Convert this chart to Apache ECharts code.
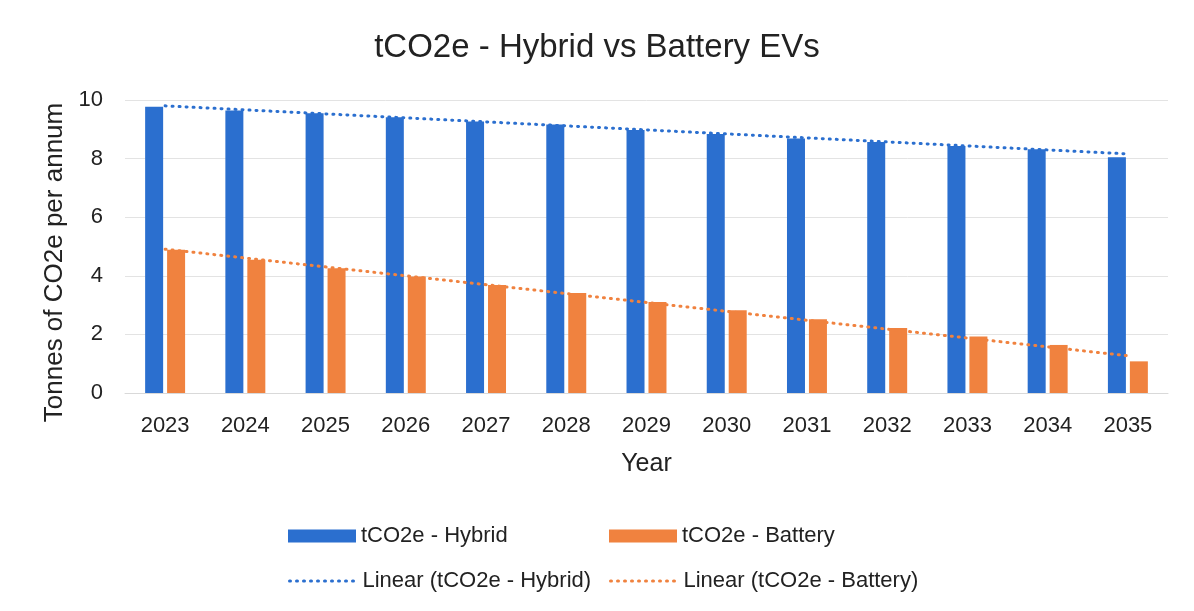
<!DOCTYPE html>
<html>
<head>
<meta charset="utf-8">
<script src="https://cdn.jsdelivr.net/npm/echarts@6/dist/echarts.min.js"></script>
<style>
  html, body { margin: 0; padding: 0; background: #fff; }
  #chart { width: 1194px; height: 611px; }
</style>
</head>
<body>
<div id="chart"></div>
<script>
const years = ['2023', '2024', '2025', '2026', '2027', '2028', '2029', '2030', '2031', '2032', '2033', '2034', '2035'];
const hybrid = [9.77, 9.64, 9.55, 9.41, 9.27, 9.16, 8.98, 8.84, 8.69, 8.57, 8.43, 8.32, 8.05];
const battery = [4.89, 4.55, 4.26, 3.98, 3.69, 3.41, 3.11, 2.82, 2.52, 2.22, 1.93, 1.64, 1.08];
// trend lines at first and last year
const hybridTrend = [9.80, null, null, null, null, null, null, null, null, null, null, null, 8.16];
const batteryTrend = [4.91, null, null, null, null, null, null, null, null, null, null, null, 1.27];

const blue = '#2b6fcf';
const orange = '#f0823f';
const font = 'Liberation Sans, Arial, sans-serif';

const chart = echarts.init(document.getElementById('chart'));

const legendText = { fontSize: 22, color: '#222', fontFamily: font };
const barLegend = { itemWidth: 68, itemHeight: 13, icon: 'rect', itemGap: 0, textStyle: legendText };
const lineLegend = {
  itemWidth: 68, itemHeight: 13, itemGap: 0, textStyle: legendText,
  itemStyle: { opacity: 0 },
  lineStyle: { width: 3, type: [1, 6], cap: 'round' }
};

chart.setOption({
  animation: false,
  title: {
    text: 'tCO2e - Hybrid vs Battery EVs',
    left: 'center',
    top: 26,
    textStyle: { fontSize: 33, fontWeight: 'normal', color: '#222', fontFamily: font }
  },
  legend: [
    Object.assign({ data: ['tCO2e - Hybrid'], left: 283, top: 520 }, barLegend),
    Object.assign({ data: ['tCO2e - Battery'], left: 604, top: 520 }, barLegend),
    Object.assign({ data: ['Linear (tCO2e - Hybrid)'], left: 283, top: 565 }, lineLegend),
    Object.assign({ data: ['Linear (tCO2e - Battery)'], left: 604, top: 565 }, lineLegend)
  ],
  grid: { left: 125, right: 26, top: 100, bottom: 218, containLabel: false },
  xAxis: {
    type: 'category',
    data: years,
    name: 'Year',
    nameLocation: 'middle',
    nameGap: 59,
    nameTextStyle: { fontSize: 25, color: '#222', fontFamily: font },
    axisLine: { show: true, lineStyle: { color: '#d9d9d9' } },
    axisTick: { show: false },
    axisLabel: { fontSize: 22, color: '#222', margin: 22, fontFamily: font }
  },
  yAxis: {
    type: 'value',
    min: 0,
    max: 10,
    interval: 2,
    name: 'Tonnes of CO2e per annum',
    nameLocation: 'middle',
    nameRotate: 90,
    nameGap: 57,
    nameTextStyle: { fontSize: 26, color: '#222', fontFamily: font, padding: [0, 32, 0, 0] },
    axisLine: { show: false },
    axisTick: { show: false },
    axisLabel: { fontSize: 22, color: '#222', margin: 22, fontFamily: font },
    splitLine: { lineStyle: { color: '#e3e3e3', width: 1 } }
  },
  series: [
    {
      name: 'tCO2e - Hybrid',
      type: 'bar',
      data: hybrid,
      barWidth: 18,
      barGap: '22%',
      itemStyle: { color: blue }
    },
    {
      name: 'tCO2e - Battery',
      type: 'bar',
      data: battery,
      barWidth: 18,
      itemStyle: { color: orange }
    },
    {
      name: 'Linear (tCO2e - Hybrid)',
      type: 'line',
      data: hybridTrend,
      connectNulls: true,
      symbol: 'none',
      z: 5,
      itemStyle: { color: blue },
      lineStyle: { color: blue, width: 3, type: [1, 6], cap: 'round' }
    },
    {
      name: 'Linear (tCO2e - Battery)',
      type: 'line',
      data: batteryTrend,
      connectNulls: true,
      symbol: 'none',
      z: 5,
      itemStyle: { color: orange },
      lineStyle: { color: orange, width: 3, type: [1, 6], cap: 'round' }
    }
  ]
});
</script>
</body>
</html>
